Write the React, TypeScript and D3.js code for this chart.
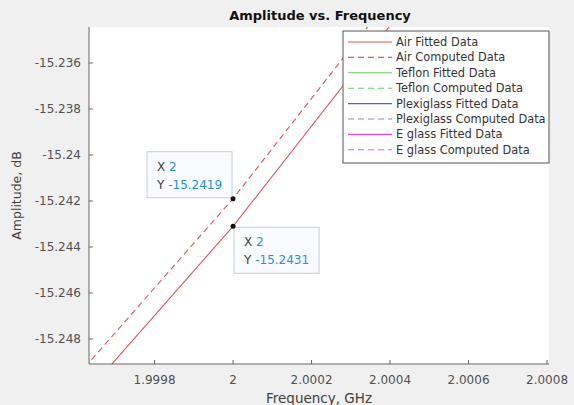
import React from "react";
import * as d3 from "d3";

const freq = [1.999, 2, 2.001];
const airFitted = [-15.2625, -15.2431, -15.2213];
const airComputed = [-15.2613, -15.2419, -15.2201];

const xTicks = [1.9998, 2, 2.0002, 2.0004, 2.0006, 2.0008];
const xTickLabels = ["1.9998", "2", "2.0002", "2.0004", "2.0006", "2.0008"];
const yTicks = [-15.236, -15.238, -15.24, -15.242, -15.244, -15.246, -15.248];
const yTickLabels = ["-15.236", "-15.238", "-15.24", "-15.242", "-15.244", "-15.246", "-15.248"];

const legendLabels = [
  "Air Fitted Data",
  "Air Computed Data",
  "Teflon Fitted Data",
  "Teflon Computed Data",
  "Plexiglass Fitted Data",
  "Plexiglass Computed Data",
  "E glass Fitted Data",
  "E glass Computed Data",
];
const legendColors = ["#e05555", "#e05555", "#66cc66", "#66cc66", "#5a5ac8", "#8a8ad6", "#ee44ee", "#dd66dd"];
const legendDashed = [false, true, false, true, false, true, false, true];

const tipX = [2, 2];
const tipY = [-15.2419, -15.2431];
const tipLabels = ["-15.2419", "-15.2431"];

const W = 574, H = 405;
const L = 89, R = 549, T = 27, B = 364;
const FONT = "'DejaVu Sans', Verdana, sans-serif";

export default function App() {
  const x = d3.scaleLinear().domain([1.999633, 2.000805]).range([L, R]);
  const y = d3.scaleLinear().domain([-15.249087, -15.234435]).range([B, T]);
  const line = d3
    .line<number>()
    .x((_, i) => x(freq[i]))
    .y((d) => y(d));

  const lgX = 343, lgY = 31, lgW = 206, lgH = 132;
  const rowY = (i: number) => 42 + i * 15.4;

  return (
    <div style={{ position: "fixed", left: 0, top: 0 }}>
      <svg width={W} height={H} style={{ display: "block", fontFamily: FONT }}>
        <rect x={0} y={0} width={W} height={H} fill="#f0f0f0" />
        <rect x={L} y={T} width={R - L} height={B - T} fill="#ffffff" />
        <defs>
          <clipPath id="plotclip">
            <rect x={L} y={T} width={R - L} height={B - T} />
          </clipPath>
        </defs>
        <g clipPath="url(#plotclip)">
          <path d={line(airFitted) || ""} fill="none" stroke="#e05555" strokeWidth={1.1} />
          <path d={line(airComputed) || ""} fill="none" stroke="#e05555" strokeWidth={1.1} strokeDasharray="6,4" />
        </g>
        {/* axes */}
        <line x1={L} x2={L} y1={T} y2={B} stroke="#666" strokeWidth={1} />
        <line x1={L} x2={R} y1={B} y2={B} stroke="#666" strokeWidth={1} />
        {yTicks.map((t, i) => (
          <g key={"y" + i}>
            <line x1={L} x2={L + 4} y1={y(t)} y2={y(t)} stroke="#666" />
            <text x={L - 8} y={y(t)} dy="0.35em" textAnchor="end" fontSize={12} fill="#505050">
              {yTickLabels[i]}
            </text>
          </g>
        ))}
        {xTicks.map((t, i) => (
          <g key={"x" + i}>
            <line x1={x(t)} x2={x(t)} y1={B} y2={B - 4} stroke="#666" />
            <text x={x(t)} y={380} dy="0.35em" textAnchor="middle" fontSize={12} fill="#505050">
              {xTickLabels[i]}
            </text>
          </g>
        ))}
        <text x={(L + R) / 2} y={398} dy="0.35em" textAnchor="middle" fontSize={13.5} fill="#404040">
          Frequency, GHz
        </text>
        <text
          transform={`translate(17,${(T + B) / 2}) rotate(-90)`}
          textAnchor="middle"
          dy="0.35em"
          fontSize={12.5}
          fill="#404040"
        >
          Amplitude, dB
        </text>
        <text x={320} y={15} dy="0.35em" textAnchor="middle" fontSize={13} fontWeight="bold" fill="#111">
          Amplitude vs. Frequency
        </text>

        {/* data tips */}
        {tipX.map((tx, i) => {
          const px = x(tx), py = y(tipY[i]);
          const bw = 85, bh = 46;
          const bx = i === 0 ? px - bw - 1 : px + 1;
          const by = i === 0 ? py - bh - 1 : py + 1;
          return (
            <g key={"tip" + i}>
              <rect x={bx} y={by} width={bw} height={bh} fill="#fafbfe" fillOpacity={0.95} stroke="#c4cedc" strokeWidth={1} />
              <text x={bx + 10} y={by + 15} dy="0.35em" fontSize={12} fill="#404040">
                X <tspan fill="#1a8fe6">2</tspan>
              </text>
              <text x={bx + 10} y={by + 33} dy="0.35em" fontSize={12} fill="#404040">
                Y <tspan fill="#1a8fe6">{tipLabels[i]}</tspan>
              </text>
              <circle cx={px} cy={py} r={2.5} fill="#111" />
            </g>
          );
        })}

        {/* legend */}
        <rect x={lgX} y={lgY} width={lgW} height={lgH} fill="#fff" stroke="#555" strokeWidth={1} />
        {legendLabels.map((lab, i) => (
          <g key={"lg" + i}>
            <line
              x1={348}
              x2={392}
              y1={rowY(i)}
              y2={rowY(i)}
              stroke={legendColors[i]}
              strokeWidth={1.1}
              strokeDasharray={legendDashed[i] ? "6,4" : undefined}
            />
            <text x={396} y={rowY(i)} dy="0.35em" fontSize={11.4} fill="#333">
              {lab}
            </text>
          </g>
        ))}
      </svg>
    </div>
  );
}
